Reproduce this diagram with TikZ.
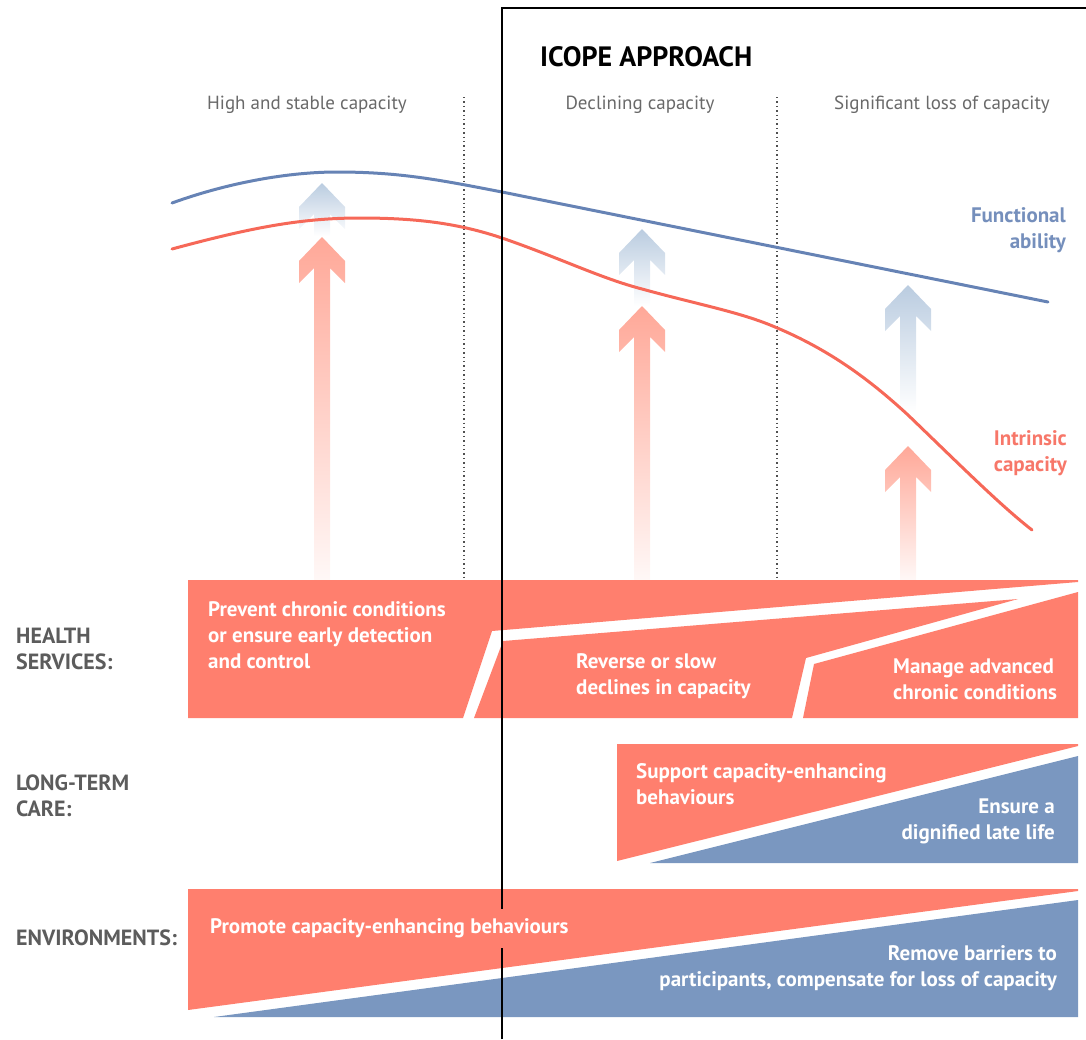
\documentclass[tikz,border=0pt]{standalone}
\usepackage{fontspec}
\setmainfont{PT Sans}
\usepackage{tikz}
\usetikzlibrary{arrows.meta, positioning, calc}

\definecolor{bandred}{RGB}{255,127,110}
\definecolor{bandblue}{RGB}{122,151,192}
\definecolor{curvered}{RGB}{246,104,88}
\definecolor{curveblue}{RGB}{102,131,181}
\definecolor{arrowred}{RGB}{255,168,152}
\definecolor{arrowblue}{RGB}{186,204,224}
\definecolor{labelgray}{RGB}{92,92,92}
\definecolor{headgray}{RGB}{105,105,105}
\definecolor{dotgray}{RGB}{80,80,80}

% fading arrow: x, tip y, bottom y, top colour, bottom colour
\newcommand{\fadearrow}[5]{%
  \shade[top color=#4, middle color=#4!85, bottom color=#5]
    (#1,#2) -- (#1+23,#2+24) -- (#1+23,#2+46) -- (#1+8,#2+31) -- (#1+8,#3)
    -- (#1-8,#3) -- (#1-8,#2+31) -- (#1-23,#2+46) -- (#1-23,#2+24) -- cycle;
}

\begin{document}
\begin{tikzpicture}[x=1pt, y=-1pt,
  bandtext/.style={text=white, font=\fontsize{21}{26}\selectfont\bfseries, align=left, inner sep=0pt},
  sidelabel/.style={text=labelgray, font=\fontsize{22}{26}\selectfont\bfseries, align=left, anchor=west, inner sep=0pt},
  phase/.style={text=headgray, font=\fontsize{19}{22}\selectfont, inner sep=0pt},
  curvelabel/.style={font=\fontsize{21}{26}\selectfont\bfseries, align=right, anchor=east, inner sep=0pt}]

  \useasboundingbox (0,0) rectangle (1086,1039);

  % ==== Phases ====
  \node[font=\fontsize{28}{30}\selectfont\bfseries, anchor=west, inner sep=0pt] (icope) at (540,57) {ICOPE APPROACH};
  \node[phase] (high) at (307,105) {High and stable capacity};
  \node[phase] (decl) at (640,105) {Declining capacity};
  \node[phase] (loss) at (942,105) {Significant loss of capacity};

  \draw[dotgray, line width=1.4pt, dash pattern=on 1.4pt off 3pt] (464,97) -- (464,580);
  \draw[dotgray, line width=1.4pt, dash pattern=on 1.4pt off 3pt] (777,97) -- (777,580);

  % ==== Arrows (behind the curves) ====
  \fadearrow{322}{237}{580}{arrowred}{arrowred!8}
  \fadearrow{642}{306}{580}{arrowred}{arrowred!8}
  \fadearrow{908}{446}{580}{arrowred}{arrowred!8}
  \fadearrow{322}{183}{236}{arrowblue}{white}
  \fadearrow{642}{229}{306}{arrowblue}{white}
  \fadearrow{908}{285}{412}{arrowblue}{white}

  % ==== Curves ====
  \draw[curveblue, line width=3pt, line cap=round]
    (172,203) .. controls (230,182) and (290,172) .. (337,172)
    .. controls (400,172) and (440,180) .. (502,192) -- (1048,302);
  \draw[curvered, line width=3pt, line cap=round]
    (172,249) .. controls (250,228) and (300,218) .. (360,218)
    .. controls (420,218) and (460,224) .. (502,238)
    .. controls (560,258) and (600,278) .. (642,289)
    .. controls (700,305) and (740,312) .. (775,327)
    .. controls (830,350) and (870,380) .. (908,415)
    .. controls (960,465) and (1000,505) .. (1032,530);

  \node[curvelabel, text=curveblue!90] (fa) at (1066,230) {Functional\\ability};
  \node[curvelabel, text=curvered!90] (ic) at (1067,453) {Intrinsic\\capacity};

  % ==== Health services ====
  \fill[bandred] (188,580) -- (1078,580) -- (1078,582) -- (492,631) -- (463,718) -- (188,718) -- cycle;
  \fill[bandred] (474,718) -- (503,641) -- (1018,599) -- (806,658) -- (792,718) -- cycle;
  \fill[bandred] (803,718) -- (814,664) -- (1078,592) -- (1078,718) -- cycle;

  \node[bandtext, anchor=west] (prev) at (208,635) {Prevent chronic conditions\\or ensure early detection\\and control};
  \node[bandtext, anchor=west] (rev) at (576,676) {Reverse or slow\\declines in capacity};
  \node[bandtext, anchor=west] (man) at (893,679) {Manage advanced\\chronic conditions};

  % ==== Long-term care ====
  \fill[bandred] (617,744) -- (1078,744) -- (1078,746) -- (617,861) -- cycle;
  \fill[bandblue] (650,863) -- (1078,756) -- (1078,863) -- cycle;

  \node[bandtext, anchor=west] (supp) at (636,784) {Support capacity-enhancing\\behaviours};
  \node[bandtext, anchor=east, align=right] (dign) at (1055,821) {Ensure a\\dignified late life};

  % ==== Environments ====
  \fill[bandred] (188,889) -- (1078,889) -- (1078,891) -- (188,1010) -- cycle;
  \fill[bandblue] (214,1017) -- (1078,900) -- (1078,1017) -- cycle;

  % ==== ICOPE frame ====
  \draw[line width=2.2pt] (502,1039) -- (502,8) -- (1086,8);

  \node[bandtext, anchor=west, fill=bandred, minimum height=39pt, inner xsep=2pt] (prom) at (208,928) {Promote capacity-enhancing behaviours};
  \node[bandtext, anchor=east, align=right] (barr) at (1057,968) {Remove barriers to\\participants, compensate for loss of capacity};

  % ==== Side labels ====
  \node[sidelabel] (hs) at (16,649) {HEALTH\\SERVICES:};
  \node[sidelabel] (ltc) at (16,796) {LONG-TERM\\CARE:};
  \node[sidelabel] (env) at (16,938) {ENVIRONMENTS:};
\end{tikzpicture}
\end{document}
